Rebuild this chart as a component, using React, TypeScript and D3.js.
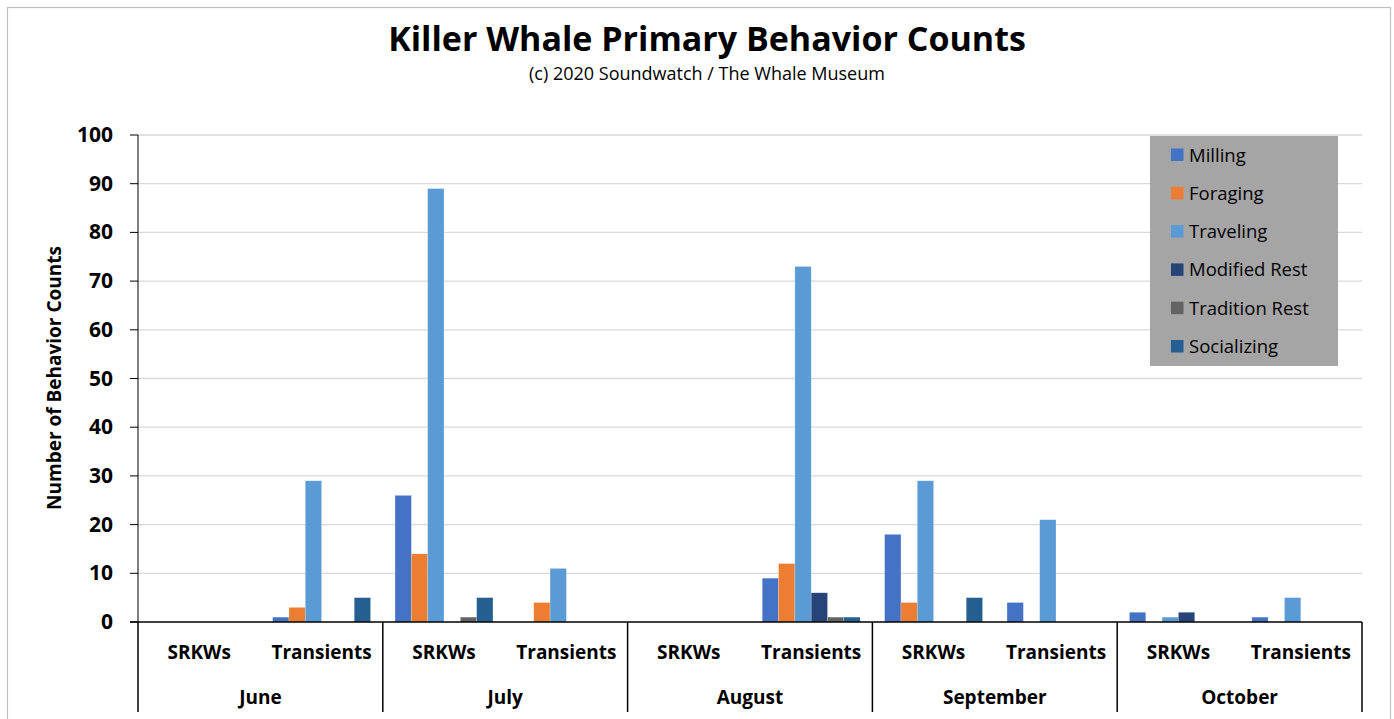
import React from "react";
import * as d3 from "d3";

const months = ["June", "July", "August", "September", "October"];
const groups = ["SRKWs", "Transients"];
const seriesNames = ["Milling", "Foraging", "Traveling", "Modified Rest", "Tradition Rest", "Socializing"];
const seriesColors = ["#4472C4", "#ED7D31", "#5B9BD5", "#264478", "#636363", "#255E91"];

// order: June SRKWs, June Transients, July SRKWs, July Transients, ...
const milling = [0, 1, 26, 0, 0, 9, 18, 4, 2, 1];
const foraging = [0, 3, 14, 4, 0, 12, 4, 0, 0, 0];
const traveling = [0, 29, 89, 11, 0, 73, 29, 21, 1, 5];
const modifiedRest = [0, 0, 0, 0, 0, 6, 0, 0, 2, 0];
const traditionRest = [0, 0, 1, 0, 0, 1, 0, 0, 0, 0];
const socializing = [0, 5, 5, 0, 0, 1, 5, 0, 0, 0];
const seriesValues = [milling, foraging, traveling, modifiedRest, traditionRest, socializing];

const yTicks = [0, 10, 20, 30, 40, 50, 60, 70, 80, 90, 100];

const FONT = "'Open Sans', sans-serif";

export default function App() {
  const W = 1394, H = 719;
  const left = 138, right = 1362, top = 135, bottom = 622;

  const cats = months.flatMap((m) => groups.map((g) => `${m}|${g}`));
  const x = d3.scaleBand<string>().domain(cats).range([left, right]).paddingInner(0).paddingOuter(0);
  const inner = d3.scaleBand<string>().domain(seriesNames).range([0, x.bandwidth()]).paddingInner(0).paddingOuter(0.75);
  const y = d3.scaleLinear().domain([0, 100]).range([bottom, top]);

  const monthW = (right - left) / months.length;
  const legendX = 1150, legendY = 136, legendW = 188, legendH = 230;

  return (
    <svg width={W} height={H} style={{ position: "absolute", left: 0, top: 0, background: "#fff" }} fontFamily={FONT}>
      <rect x={7.5} y={7.5} width={1383} height={730} fill="#fff" stroke="#BFBFBF" strokeWidth={1.2} />
      <text x={707} y={51} textAnchor="middle" fontSize={34} fontWeight="bold" fill="#000">Killer Whale Primary Behavior Counts</text>
      <text x={707} y={80} textAnchor="middle" fontSize={18} fill="#000">(c) 2020 Soundwatch / The Whale Museum</text>

      {yTicks.map((t) => (
        <g key={t}>
          {t > 0 && <line x1={left} x2={right} y1={y(t)} y2={y(t)} stroke="#D9D9D9" strokeWidth={1.3} />}
          <line x1={130} x2={left} y1={y(t)} y2={y(t)} stroke="#000" strokeWidth={1} />
          <text x={113} y={y(t) + 7} textAnchor="end" fontSize={21} fontWeight="bold" fill="#000">{t}</text>
        </g>
      ))}
      <line x1={left} x2={left} y1={top} y2={bottom} stroke="#000" strokeWidth={1} />

      {seriesValues.map((vals, si) =>
        vals.map((v, ci) =>
          v > 0 ? (
            <rect
              key={`${si}-${ci}`}
              x={(x(cats[ci]) as number) + (inner(seriesNames[si]) as number)}
              y={y(v)}
              width={inner.bandwidth()}
              height={bottom - y(v)}
              fill={seriesColors[si]}
              stroke="#ffffff"
              strokeOpacity={0.35}
              strokeWidth={0.6}
            />
          ) : null
        )
      )}

      <line x1={130} x2={right} y1={bottom} y2={bottom} stroke="#000" strokeWidth={1.5} />
      {d3.range(months.length + 1).map((i) => (
        <line key={i} x1={left + i * monthW} x2={left + i * monthW} y1={bottom} y2={712} stroke="#000" strokeWidth={1.5} />
      ))}
      {cats.map((c) => (
        <text key={c} x={(x(c) as number) + x.bandwidth() / 2} y={659} textAnchor="middle" fontSize={19} fontWeight="bold" fill="#000">
          {c.split("|")[1]}
        </text>
      ))}
      {months.map((m, i) => (
        <text key={m} x={left + (i + 0.5) * monthW} y={704} textAnchor="middle" fontSize={19} fontWeight="bold" fill="#000">{m}</text>
      ))}

      <text transform={`translate(61,378) rotate(-90)`} textAnchor="middle" fontSize={19} fontWeight="bold" fill="#000">Number of Behavior Counts</text>

      <rect x={legendX} y={legendY} width={legendW} height={legendH} fill="#A5A5A5" />
      {seriesNames.map((s, i) => {
        const cy = 155 + i * 38.3;
        return (
          <g key={s}>
            <rect x={1171} y={cy - 6.5} width={12.5} height={12.5} fill={seriesColors[i]} />
            <text x={1189} y={cy + 6.5} fontSize={18.5} fill="#000">{s}</text>
          </g>
        );
      })}
    </svg>
  );
}
